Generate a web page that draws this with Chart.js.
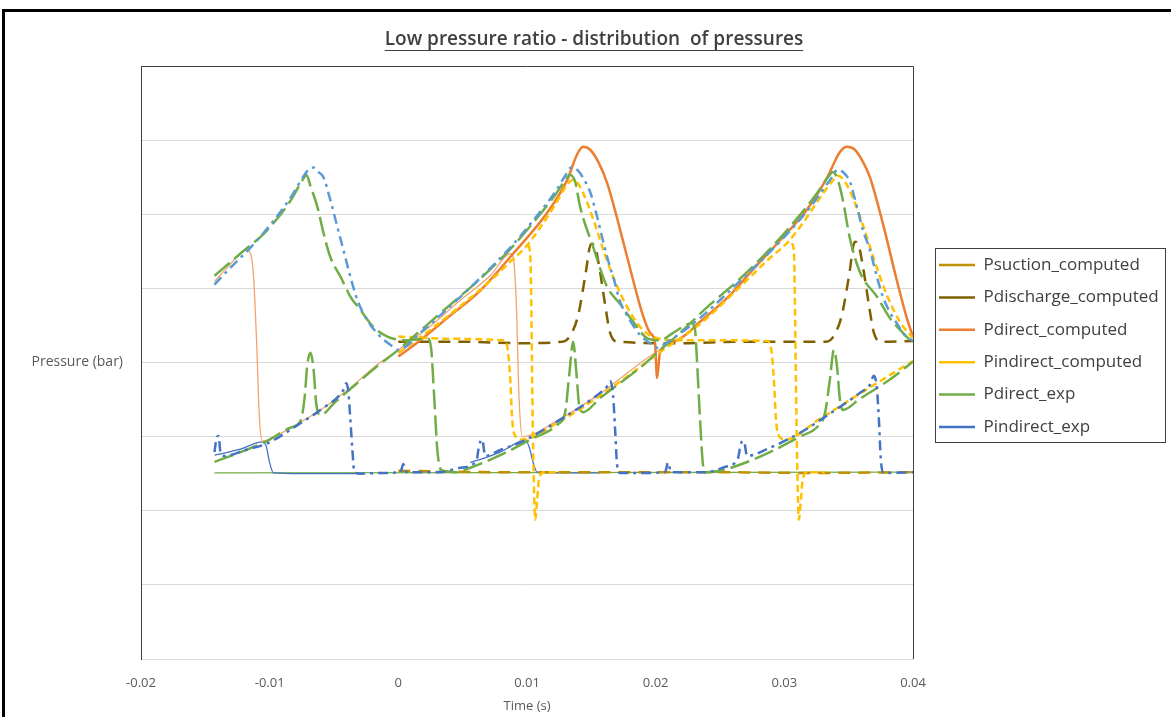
<!DOCTYPE html>
<html>
<head>
<meta charset="utf-8">
<script src="https://cdn.jsdelivr.net/npm/chart.js@4.4.1/dist/chart.umd.min.js"></script>
<style>
    html, body { margin: 0; padding: 0; background: #fff; overflow: hidden; }
    #wrap { position: relative; width: 1171px; height: 717px; overflow: hidden; }
    #frame { position: absolute; left: 2px; top: 9px; width: 1200px; height: 760px; border-left: 3px solid #000; border-top: 3px solid #000; pointer-events: none; }
</style>
</head>
<body>
<div id="wrap">
    <canvas id="chart" width="1171" height="717"></canvas>
    <div id="frame"></div>
</div>
<script>
// time in s, pressure in grid units (axis has no numeric labels)
const suctionT = [0, 0.008, 0.016, 0.024, 0.032, 0.04]
const suctionP = [2.54, 2.52, 2.52, 2.52, 2.51, 2.52]

const dischargeT = [0, 0.00481, 0.00947, 0.01273, 0.01335, 0.01398, 0.01452, 0.01498, 0.01529, 0.01568, 0.01607, 0.01646, 0.01708, 0.02189, 0.02655, 0.03121, 0.03323, 0.03385, 0.03447, 0.03502, 0.03548, 0.03579, 0.03618, 0.03657, 0.03696, 0.03758, 0.04]
const dischargeP = [4.28, 4.28, 4.26, 4.28, 4.36, 4.64, 5.16, 5.60, 5.56, 5.22, 4.78, 4.40, 4.28, 4.26, 4.28, 4.28, 4.28, 4.36, 4.64, 5.16, 5.63, 5.57, 5.22, 4.78, 4.40, 4.28, 4.29]

const directCompT = [0, 0.00171, 0.00380, 0.00637, 0.00893, 0.01157, 0.01312, 0.01390, 0.01436, 0.01491, 0.01553, 0.01623, 0.01724, 0.01825, 0.01902, 0.01957, 0.01995, 0.02011, 0.02034, 0.02166, 0.02345, 0.02578, 0.02733, 0.02989, 0.03175, 0.03331, 0.03432, 0.03486, 0.03548, 0.03610, 0.03665, 0.03765, 0.03874, 0.03952, 0.04]
const directCompP = [4.08, 4.30, 4.60, 4.97, 5.47, 6.02, 6.46, 6.81, 6.91, 6.87, 6.71, 6.42, 5.79, 5.11, 4.63, 4.40, 4.26, 3.79, 4.14, 4.30, 4.55, 4.91, 5.21, 5.69, 6.06, 6.49, 6.84, 6.91, 6.87, 6.71, 6.50, 5.88, 5.11, 4.60, 4.35]

// null splits the trace into separate pieces
const indirectCompT = [
    0, 0.00248, 0.00481, 0.00714, 0.00870, 0.00986, 0.01102, 0.01219, 0.01297, 0.01351, 0.01398, 0.01460, 0.01529, 0.01607, 0.01685, 0.01778, 0.01879, 0.01972, 0.02189, 0.02500, 0.02865, 0.02896, 0.02919, 0.02935, 0.02958, 0.03005, 0.03276, 0.03587, 0.03820, 0.04,
    null,
    0, 0.00404, 0.00815, 0.00846, 0.00870, 0.00885, 0.00908, 0.00955, 0.01258, 0.01568, 0.01879, 0.02034, 0.02345, 0.02655, 0.02888, 0.03020, 0.03160, 0.03276, 0.03370, 0.03416, 0.03471, 0.03533, 0.03610, 0.03703, 0.03797, 0.03898, 0.04,
    null,
    0.01009, 0.01025, 0.01033, 0.01040, 0.01048, 0.01064, 0.01079, 0.01095, 0.01134, 0.01258,
    null,
    0.03059, 0.03075, 0.03082, 0.03090, 0.03098, 0.03113, 0.03129, 0.03144, 0.03183, 0.03315
]
const indirectCompP = [
    4.13, 4.44, 4.76, 5.10, 5.36, 5.55, 5.82, 6.13, 6.36, 6.46, 6.41, 6.19, 5.86, 5.45, 5.09, 4.75, 4.48, 4.35, 4.30, 4.30, 4.29, 4.20, 3.77, 3.23, 3.01, 2.96, 3.24, 3.58, 3.83, 4.02,
    null,
    4.35, 4.32, 4.30, 4.22, 3.77, 3.23, 3.01, 2.96, 3.21, 3.55, 3.94, 4.14, 4.52, 5.02, 5.41, 5.61, 5.92, 6.22, 6.44, 6.52, 6.44, 6.22, 5.86, 5.36, 4.91, 4.55, 4.33,
    null,
    5.59, 5.45, 4.84, 3.77, 2.82, 1.88, 2.15, 2.44, 2.52, 2.52,
    null,
    5.61, 5.48, 4.84, 3.77, 2.82, 1.88, 2.15, 2.44, 2.52, 2.52
]

const directExpT = [
    -0.01429, -0.01227, -0.01033, -0.00839, -0.00745, -0.00714, -0.00683, -0.00629, -0.00582, -0.00528, -0.00450, -0.00373, -0.00295, -0.00194, -0.00085, 0.00054, 0.00233, 0.00256, 0.00280, 0.00303, 0.00334, 0.00443, 0.00559, 0.00792, 0.01025, 0.01242, 0.01297, 0.01328, 0.01359, 0.01382, 0.01405, 0.01436, 0.01568, 0.01879, 0.02011, 0.02189, 0.02422, 0.02655, 0.02888, 0.03121, 0.03261, 0.03339, 0.03377, 0.03416, 0.03455, 0.03509, 0.03587, 0.03719, 0.03820, 0.03921, 0.04,
    null,
    -0.01429, -0.01227, -0.01033, -0.00839, -0.00761, -0.00730, -0.00707, -0.00683, -0.00660, -0.00637, -0.00606, -0.00489, -0.00334, -0.00179, 0, 0.00171, 0.00404, 0.00637, 0.00870, 0.01102, 0.01219, 0.01297, 0.01335, 0.01374, 0.01413, 0.01514, 0.01623, 0.01724, 0.01825, 0.01933, 0.02034, 0.02127, 0.02221, 0.02275, 0.02306, 0.02321, 0.02345, 0.02368, 0.02391, 0.02500, 0.02655, 0.02888, 0.03121, 0.03261, 0.03315, 0.03354, 0.03385, 0.03408, 0.03432, 0.03455, 0.03587, 0.03820, 0.04
]
const directExpP = [
    5.17, 5.47, 5.76, 6.18, 6.46, 6.53, 6.38, 6.10, 5.75, 5.42, 5.16, 4.89, 4.71, 4.48, 4.35, 4.30, 4.32, 4.17, 3.50, 2.82, 2.55, 2.52, 2.58, 2.75, 2.96, 3.17, 3.33, 3.83, 4.28, 3.90, 3.43, 3.33, 3.52, 3.93, 4.13, 4.40, 4.78, 5.13, 5.53, 5.99, 6.30, 6.50, 6.57, 6.46, 6.19, 5.68, 5.22, 4.89, 4.60, 4.40, 4.26,
    null,
    2.66, 2.79, 2.93, 3.12, 3.21, 3.50, 3.97, 4.13, 3.93, 3.43, 3.29, 3.47, 3.70, 3.93, 4.17, 4.43, 4.78, 5.13, 5.53, 6.00, 6.26, 6.46, 6.53, 6.44, 6.10, 5.56, 5.02, 4.79, 4.55, 4.33, 4.30, 4.39, 4.49, 4.53, 4.44, 4.03, 3.23, 2.62, 2.52, 2.54, 2.62, 2.79, 3.00, 3.14, 3.31, 3.77, 4.17, 3.97, 3.50, 3.36, 3.51, 3.77, 4.01
]

const indirectExpT = [-0.01429, -0.01413, -0.01398, -0.01382, -0.01351, -0.01188, -0.01017, -0.00761, -0.00606, -0.00427, -0.00404, -0.00388, -0.00373, -0.00357, -0.00342, -0.00295, -0.00140, 0.00016, 0.00039, 0.00062, 0.00326, 0.00481, 0.00606, 0.00629, 0.00652, 0.00675, 0.00792, 0.00970, 0.01258, 0.01568, 0.01623, 0.01646, 0.01669, 0.01685, 0.01700, 0.01724, 0.01879, 0.02073, 0.02096, 0.02120, 0.02384, 0.02539, 0.02640, 0.02663, 0.02686, 0.02710, 0.02888, 0.03121, 0.03354, 0.03587, 0.03665, 0.03696, 0.03719, 0.03735, 0.03750, 0.03773, 0.04]
const indirectExpP = [2.79, 2.98, 3.01, 2.79, 2.74, 2.82, 2.91, 3.18, 3.36, 3.63, 3.72, 3.60, 3.23, 2.82, 2.52, 2.50, 2.51, 2.52, 2.63, 2.52, 2.52, 2.58, 2.67, 2.89, 2.96, 2.74, 2.82, 2.94, 3.23, 3.59, 3.68, 3.75, 3.56, 3.09, 2.62, 2.51, 2.51, 2.52, 2.65, 2.52, 2.52, 2.59, 2.71, 2.91, 2.94, 2.74, 2.85, 3.05, 3.31, 3.59, 3.70, 3.82, 3.66, 3.23, 2.69, 2.51, 2.52]

// unlabelled traces that show in the picture but not in its legend
const upperExpT = [-0.01429, -0.01304, -0.01149, -0.00994, -0.00839, -0.00745, -0.00699, -0.00660, -0.00621, -0.00582, -0.00528, -0.00474, -0.00427, -0.00373, -0.00318, -0.00241, -0.00140, -0.00039, 0, 0.00171, 0.00404, 0.00637, 0.00870, 0.01064, 0.01219, 0.01297, 0.01343, 0.01390, 0.01436, 0.01491, 0.01537, 0.01584, 0.01630, 0.01677, 0.01724, 0.01801, 0.01879, 0.01957, 0.02011, 0.02112, 0.02345, 0.02655, 0.02966, 0.03199, 0.03354, 0.03416, 0.03455, 0.03509, 0.03564, 0.03610, 0.03665, 0.03719, 0.03765, 0.03820, 0.03874, 0.03936, 0.04]
const upperExpP = [5.05, 5.28, 5.55, 5.86, 6.22, 6.49, 6.60, 6.63, 6.57, 6.50, 6.19, 5.83, 5.52, 5.16, 4.84, 4.57, 4.35, 4.21, 4.17, 4.40, 4.76, 5.14, 5.55, 5.95, 6.30, 6.52, 6.63, 6.60, 6.49, 6.30, 6.02, 5.69, 5.38, 5.11, 4.82, 4.57, 4.37, 4.26, 4.20, 4.30, 4.60, 5.10, 5.63, 6.09, 6.46, 6.60, 6.57, 6.44, 6.10, 5.79, 5.52, 5.16, 4.89, 4.68, 4.53, 4.37, 4.29]

const thinOrangeT = [-0.01429, -0.01320, -0.01227, -0.01180, -0.01149, -0.01126, -0.01102, -0.01079, -0.01056, -0.00839, -0.00606, -0.00373, -0.00179, 0, 0.00248, 0.00481, 0.00714, 0.00870, 0.00893, 0.00916, 0.00939, 0.00963, 0.01258, 0.01568, 0.01840, 0.02050]
const thinOrangeP = [5.09, 5.30, 5.47, 5.52, 5.47, 5.18, 4.30, 3.23, 2.94, 3.12, 3.36, 3.66, 3.95, 4.17, 4.49, 4.84, 5.17, 5.47, 5.42, 4.84, 3.50, 3.00, 3.24, 3.58, 3.94, 4.20]

const thinBlueT = [-0.01429, -0.01227, -0.01056, -0.01025, -0.01002, -0.00970, -0.00761, -0.00334, null, 0.00559, 0.00792, 0.00947, 0.00986, 0.01017, 0.01048, 0.01079, 0.01258, 0.01568]
const thinBlueP = [2.75, 2.83, 2.93, 2.86, 2.66, 2.51, 2.50, 2.50, null, 2.65, 2.79, 2.94, 2.96, 2.86, 2.65, 2.52, 2.51, 2.51]

const thinGreenT = [-0.01429, 0.04]
const thinGreenP = [2.51, 2.52]

const xTicks = [-0.02, 0.04, 0.01]   // min, max, step
const titleText = 'Low pressure ratio - distribution  of pressures'

Chart.defaults.font.family = "'Open Sans', sans-serif"

const pts = (ts, ps) => ts.map((t, i) => ({ x: t, y: ps[i] }))

function trace(label, ts, ps, color, width, dash, order) {
    return {
        label: label,
        data: pts(ts, ps),
        borderColor: color,
        backgroundColor: color,
        borderWidth: width,
        borderDash: dash,
        pointRadius: 0,
        pointHoverRadius: 0,
        fill: false,
        cubicInterpolationMode: 'monotone',
        order: order
    }
}

const frame = {
    id: 'frame',
    afterLayout(chart) {
        const lg = chart.legend
        const a = chart.chartArea
        const pad = lg.options.labels.padding
        lg.left = a.right + 26 - pad
        lg.right = chart.width
        lg.top = 256.5 - pad
        lg.bottom = chart.height
    },
    afterDraw(chart) {
        const { ctx, chartArea: a } = chart
        ctx.save()
        ctx.strokeStyle = '#404040'
        ctx.lineWidth = 1
        ctx.beginPath()
        ctx.moveTo(a.left, a.top + 0.5)
        ctx.lineTo(a.right + 0.5, a.top + 0.5)
        ctx.lineTo(a.right + 0.5, a.bottom)
        ctx.stroke()
        ctx.strokeRect(a.right + 22.5, 248.5, 230, 194)

        // underline of the title
        const tb = chart.titleBlock
        ctx.font = "600 19px 'Open Sans', sans-serif"
        const w = ctx.measureText(titleText).width
        const cx = (tb.left + tb.right) / 2
        ctx.beginPath()
        ctx.moveTo(cx - w / 2, 50.5)
        ctx.lineTo(cx + w / 2, 50.5)
        ctx.stroke()
        ctx.restore()
    }
}

const ctx = document.getElementById('chart').getContext('2d')

const chart = new Chart(ctx, {
    type: 'line',
    data: {
        datasets: [
            trace('Psuction_computed', suctionT, suctionP, '#BF9000', 2.5, [12, 8], 6),
            trace('Pdischarge_computed', dischargeT, dischargeP, '#7F6000', 2.5, [12, 8], 5),
            trace('Pdirect_computed', directCompT, directCompP, '#ED7D31', 2.5, [], 4),
            trace('Pindirect_computed', indirectCompT, indirectCompP, '#FFC000', 2.5, [7, 4], 3),
            trace('Pdirect_exp', directExpT, directExpP, '#70AD47', 2.5, [20, 6], 2),
            trace('Pindirect_exp', indirectExpT, indirectExpP, '#4472C4', 2.5, [10, 5, 3, 5], 0),
            trace('', upperExpT, upperExpP, '#5B9BD5', 2.5, [10, 5, 3, 5], 1),
            trace('', thinOrangeT, thinOrangeP, '#F2A36E', 1.3, [], 7),
            trace('', thinBlueT, thinBlueP, '#4472C4', 1.3, [], 8),
            trace('', thinGreenT, thinGreenP, '#70AD47', 1.3, [], 9)
        ]
    },
    options: {
        responsive: false,
        animation: false,
        devicePixelRatio: 1,
        events: [],
        layout: { padding: { left: 17, right: 0, top: 0, bottom: 0 } },
        plugins: {
            title: {
                display: true,
                text: titleText,
                color: '#404040',
                font: { size: 19, weight: '600' },
                padding: { top: 28.6, bottom: 14.6 }
            },
            legend: {
                position: 'chartArea',
                align: 'start',
                labels: {
                    usePointStyle: true,
                    pointStyle: 'line',
                    pointStyleWidth: 36,
                    padding: 15.4,
                    color: '#404040',
                    font: { size: 17 },
                    filter: item => item.text !== '',
                    sort: (a, b) => a.datasetIndex - b.datasetIndex
                }
            },
            tooltip: { enabled: false }
        },
        scales: {
            x: {
                type: 'linear',
                min: xTicks[0],
                max: xTicks[1],
                ticks: {
                    stepSize: xTicks[2],
                    color: '#595959',
                    font: { size: 13 },
                    padding: 16,
                    callback: v => String(Math.round(v * 100) / 100)
                },
                grid: { display: false, drawTicks: false },
                border: { color: '#D9D9D9' },
                title: {
                    display: true,
                    text: 'Time (s)',
                    color: '#595959',
                    font: { size: 13 },
                    padding: { top: 0, bottom: 3 }
                },
                afterFit: s => { s.height = 58 }
            },
            y: {
                min: 0,
                max: 8,
                ticks: {
                    stepSize: 1,
                    color: '#595959',
                    font: { size: 14 },
                    padding: 18,
                    callback: v => v === 4 ? 'Pressure (bar)' : ''
                },
                grid: { color: '#D9D9D9', drawTicks: false },
                border: { color: '#404040' },
                afterFit: s => { s.width = 124 }
            },
            y2: {
                position: 'right',
                grid: { display: false, drawTicks: false },
                ticks: { display: false },
                border: { display: false },
                afterFit: s => { s.width = 258 }
            }
        }
    },
    plugins: [frame]
})
</script>
</body>
</html>
